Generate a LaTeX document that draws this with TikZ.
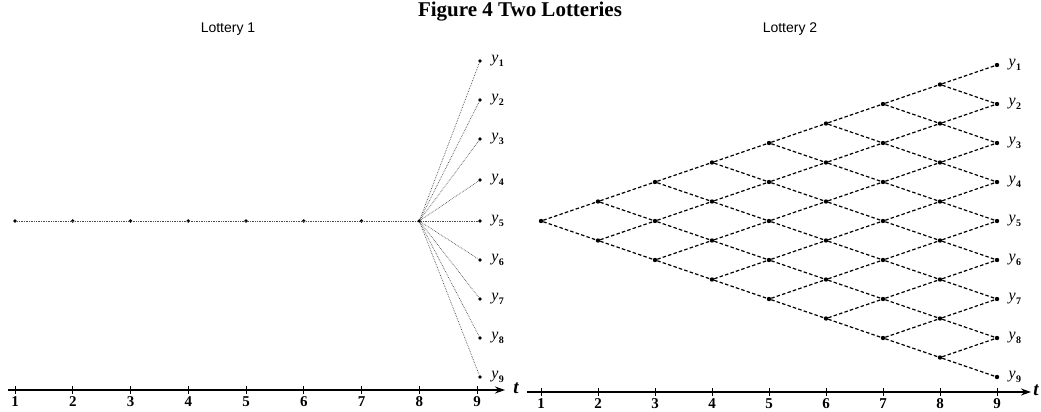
\documentclass[tikz,border=0pt]{standalone}
\usepackage{fontspec}
\setmainfont{Liberation Serif}
\newfontfamily\lotfont{Liberation Sans}
\usetikzlibrary{arrows.meta}
\newcommand{\ylabel}[1]{\textit{y}\kern0.5pt\raisebox{-0.28em}{\fontsize{10}{10}\selectfont\bfseries #1}}
\begin{document}
\begin{tikzpicture}[x=1pt,y=-1pt,
 dot/.style={circle,fill=black,inner sep=0pt,minimum size=4.4pt},
 ldot/.style={circle,fill=black,inner sep=0pt,minimum size=3.8pt},
 lline/.style={densely dotted,line width=0.7pt,black!70},
 rline/.style={dash pattern=on 3.5pt off 2.2pt,line width=1.2pt},
 axis/.style={line width=1.4pt,-{Stealth[length=10pt,width=7pt]}},
 tickm/.style={line width=0.9pt},
 num/.style={font=\fontsize{15}{15}\selectfont\bfseries,anchor=north,inner sep=1pt},
 ylab/.style={font=\fontsize{16}{16}\selectfont,anchor=west,inner sep=0pt},
 tlab/.style={font=\fontsize{19}{19}\selectfont\bfseries\itshape,inner sep=0pt},
 heading/.style={font=\lotfont\fontsize{14}{14}\selectfont},
]
\useasboundingbox (0,0) rectangle (1041,412);
\node[font=\fontsize{21}{22}\selectfont\bfseries] (title) at (520,12) {Figure 4 Two Lotteries};
\node[heading] (h1) at (228,29) {Lottery 1};
\node[heading] (h2) at (790,29) {Lottery 2};

% ---- left axis
\coordinate (LA0) at (8,390);
\coordinate (LA1) at (505,390);
\draw[axis] (LA0) -- (LA1);
\node[tlab] (Lt) at (516,388) {t};
\foreach \i in {1,...,9}{
  \pgfmathsetmacro{\xx}{15+(\i-1)*57.75}
  \draw[tickm] (\xx,386) -- (\xx,394);
  \node[num] (Ln\i) at (\xx,395) {\i};
}

% ---- left lottery
\foreach \i in {1,...,8}{
  \node[ldot] (L\i) at ({15+(\i-1)*57.75},221) {};
}
\draw[lline] (L1) -- (L8);
\foreach \yy [count=\i] in {61,100,139,180,221,260,299,338,377}{
  \node[ldot] (E\i) at (480,\yy) {};
  \draw[lline] (L8) -- (E\i);
  \node[ylab] (EY\i) at ([xshift=9pt]E\i.east) {\ylabel{\i}};
}

% ---- right axis
\coordinate (RA0) at (527,392);
\coordinate (RA1) at (1031,392);
\draw[axis] (RA0) -- (RA1);
\node[tlab] (Rt) at (1036,390) {t};
\foreach \i in {1,...,9}{
  \pgfmathsetmacro{\xx}{541+(\i-1)*57}
  \draw[tickm] (\xx,388) -- (\xx,396);
  \node[num] (Rn\i) at (\xx,397) {\i};
}

% ---- right lattice
\foreach \k in {1,...,9}{
  \pgfmathtruncatemacro{\km}{\k-1}
  \foreach \j in {0,...,\km}{
    \node[dot] (R-\k-\j) at ({541+(\k-1)*57},{221+(2*\j-\k+1)*19.5}) {};
  }
}
\foreach \k in {1,...,8}{
  \pgfmathtruncatemacro{\km}{\k-1}
  \pgfmathtruncatemacro{\kp}{\k+1}
  \foreach \j in {0,...,\km}{
    \pgfmathtruncatemacro{\jp}{\j+1}
    \draw[rline] (R-\k-\j) -- (R-\kp-\j);
    \draw[rline] (R-\k-\j) -- (R-\kp-\jp);
  }
}
\foreach \j in {0,...,8}{
  \pgfmathtruncatemacro{\n}{\j+1}
  \node[ylab] (RY\n) at ([xshift=9pt]R-9-\j.east) {\ylabel{\n}};
}
\end{tikzpicture}
\end{document}
